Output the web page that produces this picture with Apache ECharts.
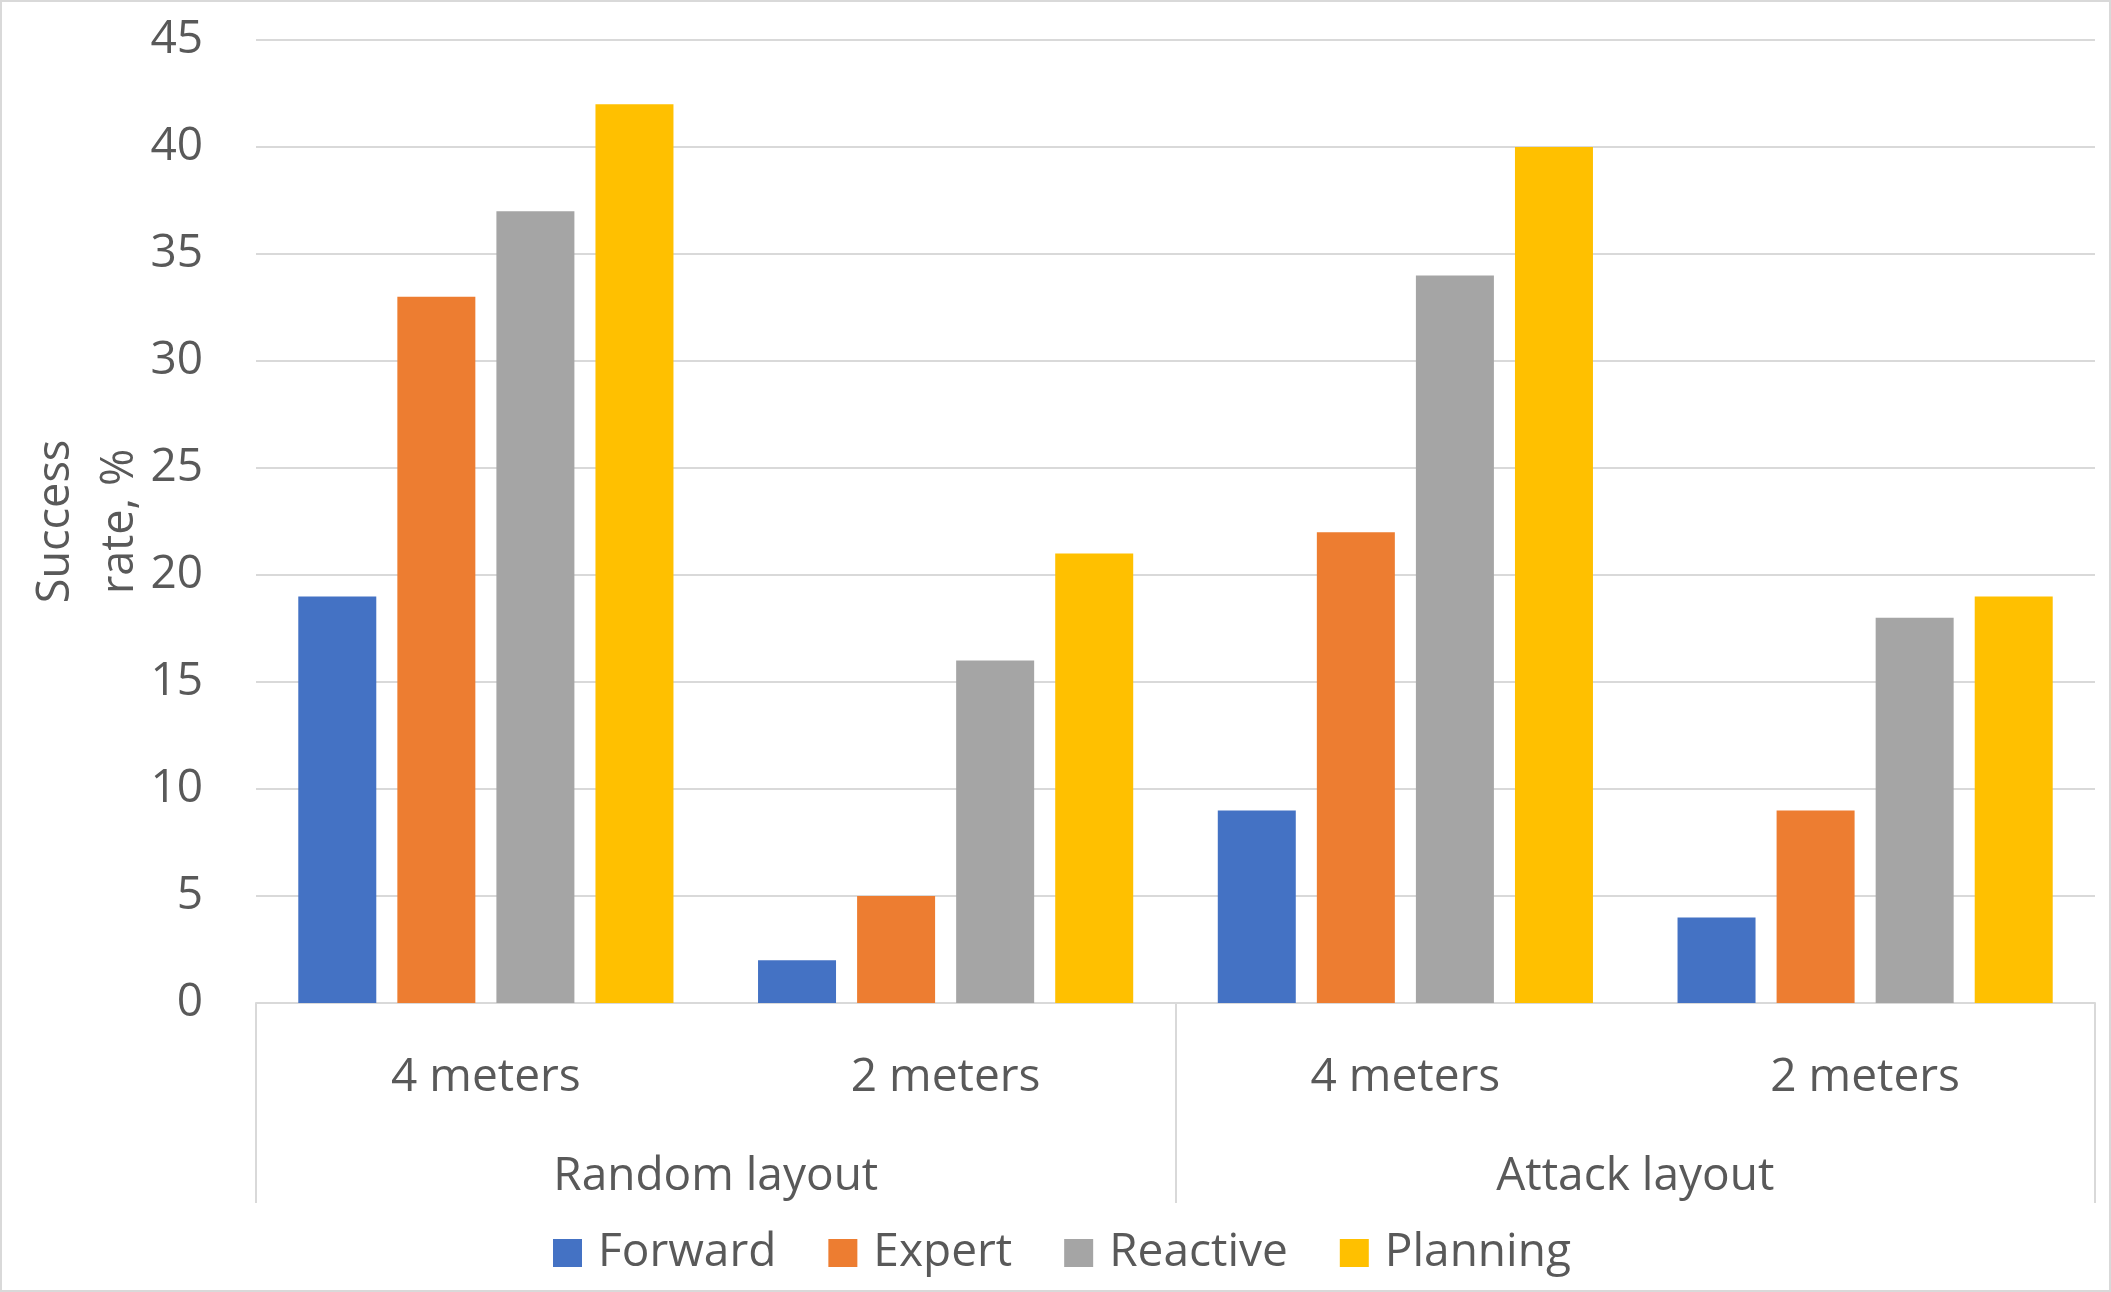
<!DOCTYPE html>
<html>
<head>
<meta charset="utf-8">
<script src="https://cdn.jsdelivr.net/npm/echarts@6/dist/echarts.min.js"></script>
<style>
  html, body { margin: 0; padding: 0; background: #fff; }
  #chart { width: 2111px; height: 1292px; }
</style>
</head>
<body>
<div id="chart"></div>
<script>
// categories: distance per layout, and the layout groups under them
var distances = ['4 meters', '2 meters', '4 meters', '2 meters'];
var layouts = ['Random layout', 'Attack layout'];

// success rate, %
var forward = [19, 2, 9, 4];
var expert = [33, 5, 22, 9];
var reactive = [37, 16, 34, 18];
var planning = [42, 21, 40, 19];

var seriesNames = ['Forward', 'Expert', 'Reactive', 'Planning'];
var seriesColors = ['#4472c4', '#ed7d31', '#a5a5a5', '#ffc000'];

var font = 'Open Sans';
var textColor = '#595959';
var lineColor = '#d9d9d9';

function bar(name, data, color) {
    return {
        name: name,
        type: 'bar',
        data: data,
        barWidth: 78,
        barGap: '27%',
        itemStyle: { color: color },
        xAxisIndex: 0
    };
}

var option = {
    animation: false,
    textStyle: { fontFamily: font },
    // chart frame
    graphic: [{
        type: 'rect',
        silent: true,
        shape: { x: 1, y: 1, width: 2109, height: 1290 },
        style: { fill: null, stroke: lineColor, lineWidth: 2 }
    }],
    grid: { left: 256, right: 16, top: 40, bottom: 289, containLabel: false, outerBoundsMode: 'none' },
    legend: {
        top: 1223,
        left: 548,
        itemWidth: 29,
        itemHeight: 28,
        itemGap: 52,
        icon: 'rect',
        textStyle: { fontSize: 46, lineHeight: 50, color: textColor, fontFamily: font, padding: [0, 0, 0, 11] },
        data: seriesNames
    },
    xAxis: [
        {
            type: 'category',
            data: distances,
            axisLine: { lineStyle: { color: lineColor, width: 2 } },
            axisTick: { show: false },
            axisLabel: { fontSize: 46, color: textColor, margin: 52, fontFamily: font }
        },
        {
            type: 'category',
            data: layouts,
            position: 'bottom',
            offset: 0,
            axisLine: { show: false },
            axisTick: { show: true, length: 200, lineStyle: { color: lineColor, width: 2 } },
            axisLabel: { fontSize: 46, color: textColor, margin: 151, fontFamily: font }
        }
    ],
    yAxis: {
        type: 'value',
        min: 0,
        max: 45,
        interval: 5,
        name: 'Success\nrate, %',
        nameLocation: 'middle',
        nameRotate: 90,
        nameGap: 104,
        nameMoveOverlap: false,
        nameTextStyle: { fontSize: 45, color: textColor, lineHeight: 64, fontFamily: font },
        axisLine: { show: false },
        axisTick: { show: false },
        axisLabel: { fontSize: 46, color: textColor, margin: 53, fontFamily: font },
        splitLine: { lineStyle: { color: lineColor, width: 2 } }
    },
    series: [
        bar(seriesNames[0], forward, seriesColors[0]),
        bar(seriesNames[1], expert, seriesColors[1]),
        bar(seriesNames[2], reactive, seriesColors[2]),
        bar(seriesNames[3], planning, seriesColors[3])
    ]
};

echarts.init(document.getElementById('chart')).setOption(option);
</script>
</body>
</html>
